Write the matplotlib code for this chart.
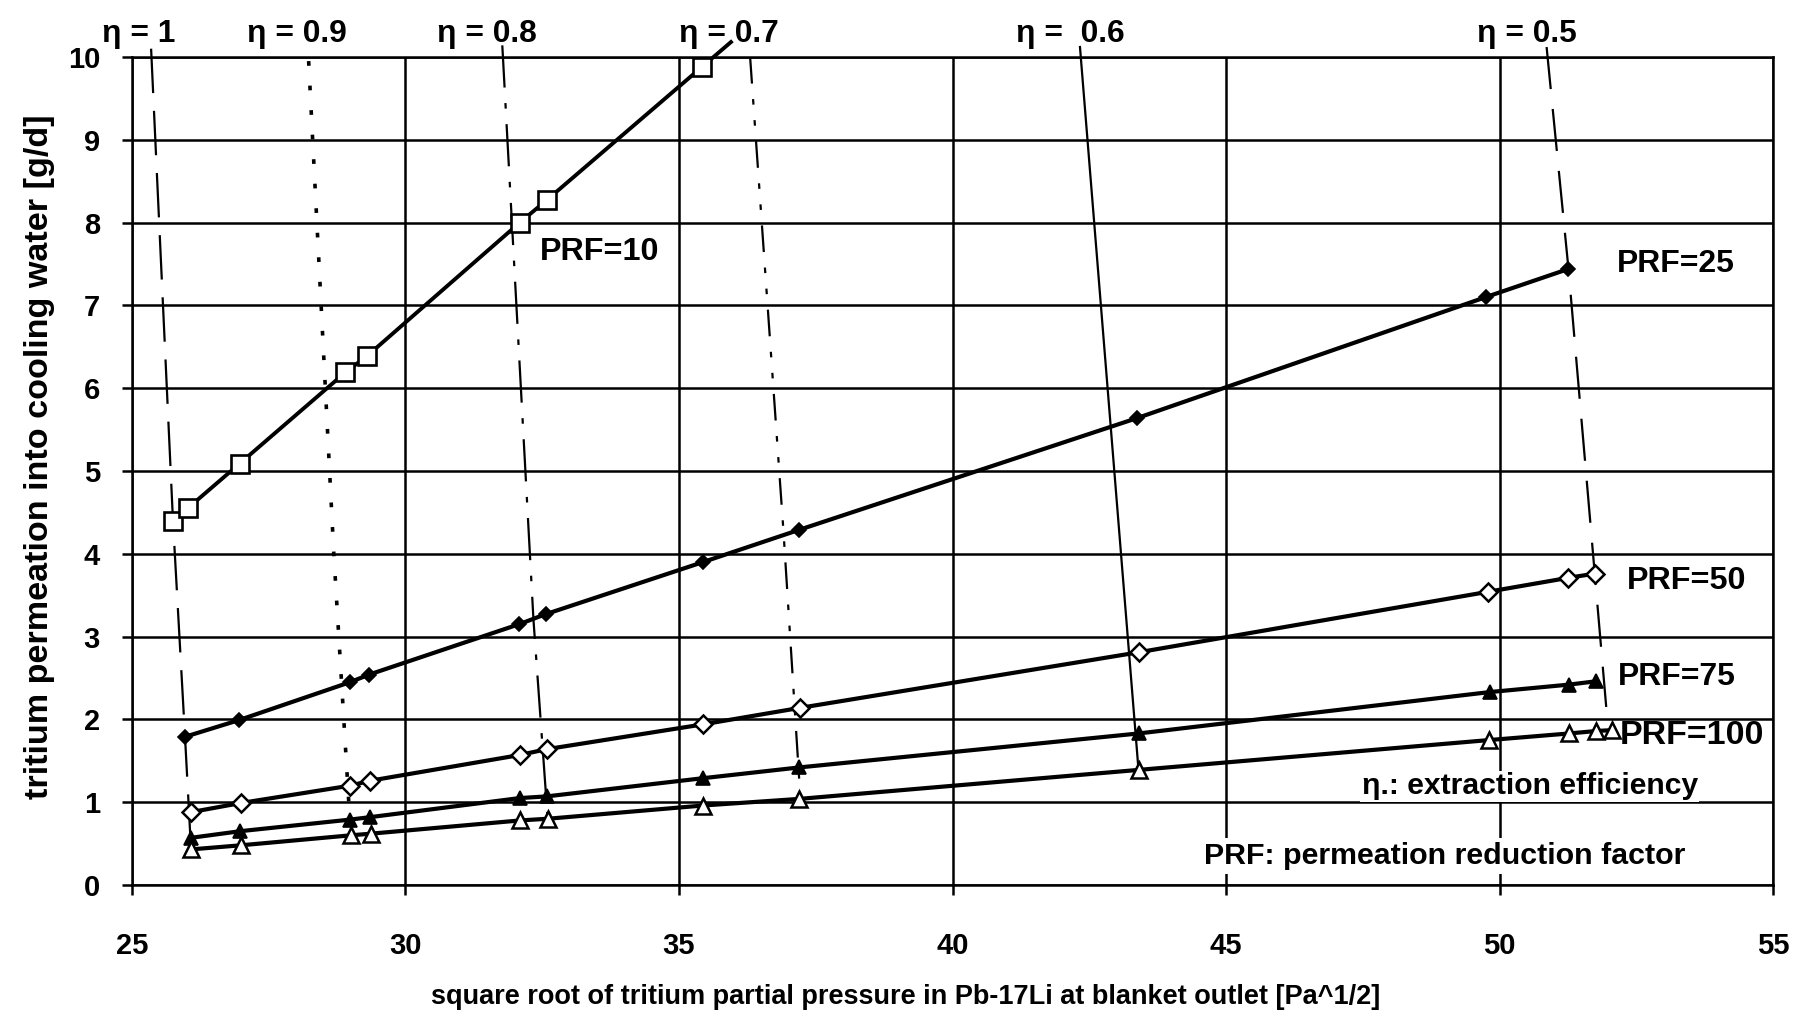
import matplotlib
matplotlib.use('Agg')
import matplotlib.pyplot as plt

# ---------------- data ----------------
prf10_x = [25.75, 26.02, 26.97, 28.90, 29.30, 32.09, 32.58, 35.42, 35.95]
prf10_y = [4.40, 4.55, 5.09, 6.19, 6.39, 8.00, 8.27, 9.88, 10.18]   # last = line exits the frame (no marker)

prf25_x = [25.97, 26.95, 28.99, 29.33, 32.08, 32.56, 35.44, 37.20, 43.38, 49.75, 51.26]
prf25_y = [1.79, 1.99, 2.45, 2.54, 3.15, 3.27, 3.90, 4.29, 5.64, 7.10, 7.44]

prf50_x = [26.08, 26.99, 28.99, 29.36, 32.09, 32.58, 35.44, 37.22, 43.40, 49.78, 51.26, 51.74]
prf50_y = [0.88, 0.99, 1.20, 1.26, 1.57, 1.64, 1.94, 2.14, 2.81, 3.54, 3.71, 3.76]

prf75_x = [26.08, 26.98, 28.99, 29.36, 32.09, 32.58, 35.44, 37.20, 43.40, 49.82, 51.27, 51.76]
prf75_y = [0.57, 0.65, 0.79, 0.82, 1.05, 1.07, 1.29, 1.42, 1.83, 2.33, 2.42, 2.46]

prf100_x = [26.08, 27.00, 29.00, 29.37, 32.10, 32.60, 35.44, 37.20, 43.40, 49.80, 51.27, 51.77, 52.05]
prf100_y = [0.43, 0.48, 0.60, 0.62, 0.78, 0.80, 0.96, 1.04, 1.39, 1.75, 1.83, 1.86, 1.87]

# extraction-efficiency (eta) curves
eta_labels = ['η = 1', 'η = 0.9', 'η = 0.8', 'η = 0.7', 'η =  0.6', 'η = 0.5']
eta1_x = [25.35, 25.75, 25.97, 26.08]
eta1_y = [10.10, 4.40, 1.79, 0.43]
eta09_x = [28.23, 28.69, 29.00]
eta09_y = [9.95, 4.00, 0.60]
eta08_x = [31.77, 32.34, 32.60]
eta08_y = [10.14, 3.20, 0.80]
eta07_x = [36.30, 36.91, 37.22]
eta07_y = [10.00, 4.27, 1.04]
eta06_x = [42.33, 43.40]
eta06_y = [10.12, 1.39]
eta05_x = [50.86, 51.26, 51.74, 51.95]
eta05_y = [10.12, 7.44, 3.76, 2.15]
eta_label_x = [25.13, 28.02, 31.49, 35.91, 42.15, 50.50]

x_ticks = [25, 30, 35, 40, 45, 50, 55]
y_ticks = [0, 1, 2, 3, 4, 5, 6, 7, 8, 9, 10]

xlabel = 'square root of tritium partial pressure in Pb-17Li at blanket outlet [Pa^1/2]'
ylabel = 'tritium permeation into cooling water [g/d]'

# ---------------- figure ----------------
BASE = ['Liberation Sans', 'DejaVu Sans']
NARROW = ['Liberation Sans Narrow', 'Liberation Sans', 'DejaVu Sans']
plt.rcParams['font.family'] = BASE
plt.rcParams['font.weight'] = 'bold'

fig = plt.figure(figsize=(18.15, 10.19), dpi=100)
ax = fig.add_axes([0.0727, 0.1315, 0.9042, 0.8126])
ax.set_xlim(25, 55)
ax.set_ylim(0, 10)
ax.set_xticks(x_ticks)
ax.set_yticks(y_ticks)
ax.grid(True, color='black', lw=1.8, zorder=0)
ax.set_axisbelow(True)
for s in ax.spines.values():
    s.set_linewidth(1.8)
    s.set_color('black')
ax.tick_params(axis='both', direction='out', length=7, width=1.8, labelsize=21, colors='black')
ax.tick_params(axis='x', pad=27)
ax.tick_params(axis='y', pad=16)
for lab in ax.get_xticklabels() + ax.get_yticklabels():
    lab.set_fontweight('bold')

# eta curves
eta_styles = [
    dict(ls=(0, (20, 8)), lw=1.6),
    dict(ls=(0, (1.3, 5.5)), lw=2.6),
    dict(ls=(0, (19, 7, 2.5, 7)), lw=1.6),
    dict(ls=(0, (12, 7, 2.5, 7, 2.5, 7)), lw=1.6),
    dict(ls='-', lw=1.6),
    dict(ls=(0, (19, 9)), lw=1.6),
]
eta_xs = [eta1_x, eta09_x, eta08_x, eta07_x, eta06_x, eta05_x]
eta_ys = [eta1_y, eta09_y, eta08_y, eta07_y, eta06_y, eta05_y]
for ex, ey, st in zip(eta_xs, eta_ys, eta_styles):
    ax.plot(ex, ey, color='black', clip_on=False, zorder=3, **st)

# PRF series
ax.plot(prf10_x, prf10_y, color='black', lw=2.8, marker='s', ms=13, mfc='white', mec='black',
        mew=1.9, markevery=list(range(len(prf10_x) - 1)), clip_on=False, zorder=5)
ax.plot(prf25_x, prf25_y, color='black', lw=3.0, marker='D', ms=7.5, mfc='black', mec='black',
        mew=1.2, clip_on=False, zorder=5)
ax.plot(prf50_x, prf50_y, color='black', lw=3.0, marker='D', ms=9.5, mfc='white', mec='black',
        mew=1.8, clip_on=False, zorder=5)
ax.plot(prf75_x, prf75_y, color='black', lw=3.0, marker='^', ms=10.5, mfc='black', mec='black',
        mew=1.2, clip_on=False, zorder=5)
ax.plot(prf100_x, prf100_y, color='black', lw=3.0, marker='^', ms=12, mfc='white', mec='black',
        mew=1.8, clip_on=False, zorder=5)

# eta labels above the frame
eta_texts = []
for lx, lab in zip(eta_label_x, eta_labels):
    t = ax.text(lx, 10.18, lab, ha='center', va='baseline', fontsize=21, fontweight='bold',
                family=NARROW, clip_on=False)
    eta_texts.append(t)

# series labels
kw = dict(ha='left', va='center', fontsize=23, fontweight='bold', zorder=6, family=NARROW)
t10 = ax.text(32.45, 7.64, 'PRF=10', **kw)
t25 = ax.text(52.15, 7.50, 'PRF=25', **kw)
t50 = ax.text(52.33, 3.67, 'PRF=50', **kw)
t75 = ax.text(52.17, 2.51, 'PRF=75', **kw)
t100 = ax.text(52.20, 1.80, 'PRF=100', **kw)
tn1 = ax.text(47.48, 1.19, 'η.: extraction efficiency', ha='left', va='center', fontsize=22,
              fontweight='bold', zorder=6, family=NARROW,
              bbox=dict(facecolor='white', edgecolor='none', pad=1.0))
tn2 = ax.text(44.59, 0.35, 'PRF: permeation reduction factor', ha='left', va='center', fontsize=22,
              fontweight='bold', zorder=6, family=NARROW,
              bbox=dict(facecolor='white', edgecolor='none', pad=3.0))

txl = fig.text(0.4988, 0.0216, xlabel, ha='center', va='center', fontsize=20, fontweight='bold',
               family=NARROW)
tyl = fig.text(0.022, 0.5515, ylabel, ha='center', va='center', rotation=90, fontsize=22,
               fontweight='bold', family=NARROW)

# fit a few text widths to the measured extents (pixels)
fig.canvas.draw()
r = fig.canvas.get_renderer()
def fit(t, target, vertical=False):
    bb = t.get_window_extent(r)
    w = bb.height if vertical else bb.width
    t.set_fontsize(t.get_fontsize() * target / w)

fit(txl, 951)
fit(tyl, 683, vertical=True)
fit(tn1, 336)
fit(tn2, 482)
fit(t10, 120)
fit(t25, 118)
fit(t50, 120)
fit(t75, 118)
fit(t100, 145)
bb = eta_texts[1].get_window_extent(r)
s = 100 / bb.width
for t in eta_texts:
    t.set_fontsize(t.get_fontsize() * s)

fig.savefig('out.png', dpi=100, facecolor='white')
